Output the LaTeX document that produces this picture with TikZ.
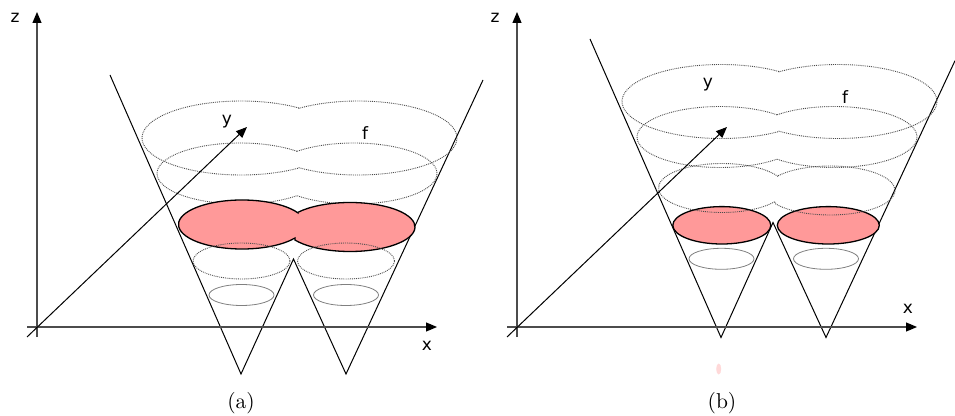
\documentclass[tikz,border=0pt]{standalone}
\usepackage{fontspec}
\usepackage{xcolor}
\usetikzlibrary{arrows.meta, positioning}
\newfontfamily\labelfont{DejaVu Sans}
\definecolor{sublevel}{HTML}{FF9999}
\tikzset{
  axisedge/.style={-{Triangle[length=11pt,width=9pt,black]},line width=1.2pt,black!70},
  yedge/.style={-{Triangle[length=11pt,width=9pt,black]},line width=1pt,black},
  conecurve/.style={line width=1pt,black},
  dotlevel/.style={line width=0.9pt,black!70,densely dotted},
  thinlevel/.style={line width=0.8pt,black!50},
  redlevel/.style={line width=1.3pt,black,fill=sublevel},
  axlabel/.style={font=\labelfont\fontsize{17}{19}\selectfont,inner sep=0pt},
  caplabel/.style={font=\normalsize,inner sep=0pt,scale=2.15,transform shape},
}
% two lobes joined at notches: cxL cyL rxL cxR cyR rxR ry top bottom
\newcommand{\lobes}[9]{%
  ({#8},{#2+#7*sin(acos((#8-#1)/#3))})
  arc[start angle={acos((#8-#1)/#3)},end angle={360-acos((#9-#1)/#3)},x radius=#3,y radius=#7]
  -- ({#9},{#5-#7*sin(acos((#9-#4)/#6))})
  arc[start angle={360-acos((#9-#4)/#6)},end angle={360+acos((#8-#4)/#6)},x radius=#6,y radius=#7]
  -- cycle}
\newcommand{\panelaxes}[1]{%
  \coordinate (#1zb) at (37,78);
  \coordinate (#1zt) at (37,403);
  \coordinate (#1xl) at (27,88);
  \coordinate (#1xr) at (437,88);
  \coordinate (#1yb) at (27,78);
  \coordinate (#1yt) at (247,288);
  \draw[axisedge] (#1zb) -- (#1zt);
  \draw[axisedge] (#1xl) -- (#1xr);
  \draw[yedge] (#1yb) -- (#1yt);
  \node[axlabel] (#1lz) at (15,397) {z};
}

\begin{document}
\begin{tikzpicture}[x=1pt,y=1pt]
  \useasboundingbox (0,0) rectangle (955,415);
  % panel a
  \draw[conecurve] (110,340) -- (241,41) -- (293.5,156) -- (346,41) -- (483,335);
  \draw[dotlevel] \lobes{241}{277}{99}{358}{277}{99}{37}{299}{299};
  \draw[dotlevel] \lobes{240}{241.5}{83}{354}{241.5}{83}{30.5}{297}{297};
  \draw[redlevel] \lobes{242}{190.5}{63.5}{350}{188}{65}{24.5}{298}{295};
  \draw[dotlevel] (241.5,154) ellipse [x radius=48.5,y radius=18];
  \draw[dotlevel] (346,154) ellipse [x radius=48.5,y radius=18];
  \draw[thinlevel] (241.5,120) ellipse [x radius=32.5,y radius=10.5];
  \draw[thinlevel] (346,120) ellipse [x radius=32.5,y radius=10.5];
  \panelaxes{a}
  \node[axlabel] (axa) at (427,69) {x};
  \node[axlabel] (aya) at (227,293.5) {y};
  \node[axlabel] (afa) at (365,282) {f};
  \node[caplabel] (capa) at (241,12) {(a)};
  % panel b
  \begin{scope}[xshift=480pt]
    \draw[conecurve] (110,376) -- (241,77.5) -- (293,192.5) -- (346,77.5) -- (475,354.3);
    \draw[dotlevel] \lobes{241}{313.5}{99}{358}{313.5}{99}{37}{299}{299};
    \draw[dotlevel] \lobes{240}{278}{83}{354}{278}{83}{30.5}{297}{297};
    \draw[redlevel] (241.8,189.7) ellipse [x radius=49,y radius=18.7];
    \draw[redlevel] (348.3,189.7) ellipse [x radius=51,y radius=18.7];
    \draw[dotlevel] \lobes{242}{227}{63.5}{350}{224.5}{65}{24.5}{298}{295};
    \draw[thinlevel] (241.5,156.2) ellipse [x radius=32.5,y radius=10.5];
    \draw[thinlevel] (346,156.2) ellipse [x radius=32.5,y radius=10.5];
    \fill[red!15] (238.7,46) ellipse [x radius=2.5,y radius=5.5];
    \panelaxes{b}
    \node[axlabel] (axb) at (428,106) {x};
    \node[axlabel] (ayb) at (228,330) {y};
    \node[axlabel] (afb) at (365,318) {f};
    \node[caplabel] (capb) at (242,12) {(b)};
  \end{scope}
\end{tikzpicture}
\end{document}
